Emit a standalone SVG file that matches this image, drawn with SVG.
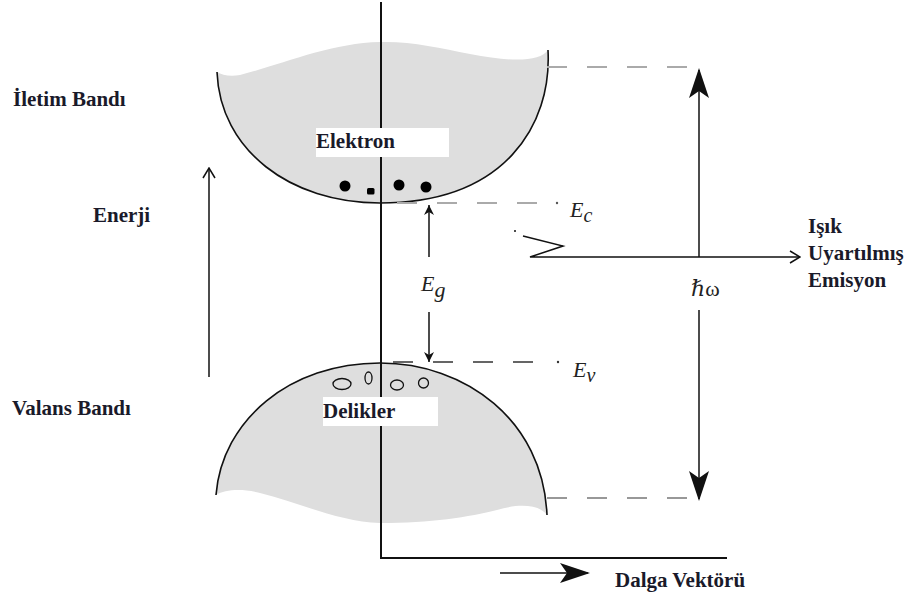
<svg xmlns="http://www.w3.org/2000/svg" width="912" height="599" viewBox="0 0 912 599">
<style>
.lbl{font-family:"Liberation Serif","Times New Roman",serif;font-weight:bold;font-size:21px;fill:#1a1a2a}
.math{font-family:"Liberation Serif","DejaVu Serif",serif;font-style:italic;font-size:22px;fill:#222}
.band{fill:#dedede;stroke:none}
.edge{fill:none;stroke:#111;stroke-width:1.6}
.ax{stroke:#111;stroke-width:2;fill:none}
.ln{stroke:#111;stroke-width:1.5;fill:none}
.dashL{stroke:#aaa;stroke-width:2;stroke-dasharray:20 20;fill:none}
.dashD{stroke:#333;stroke-width:1.5;stroke-dasharray:20 20;fill:none}
</style>
<defs>
<marker id="big" viewBox="0 0 30 20" refX="28" refY="10" markerWidth="30" markerHeight="20" markerUnits="userSpaceOnUse" orient="auto">
<path d="M0,0 L30,10 L0,20 L7,10 Z" fill="#111"/>
</marker>
<marker id="open" viewBox="0 0 12 14" refX="11" refY="7" markerWidth="12" markerHeight="14" markerUnits="userSpaceOnUse" orient="auto">
<path d="M1,1 L11,7 L1,13" fill="none" stroke="#111" stroke-width="1.5"/>
</marker>
<marker id="small" viewBox="0 0 10 10" refX="10" refY="5" markerWidth="10" markerHeight="10" markerUnits="userSpaceOnUse" orient="auto">
<path d="M0,0 L10,5 L0,10 L3,5 Z" fill="#111"/>
</marker>
</defs>

<g id="conduction-band">
<path class="band" d="M217,72 C220,150 290,203 380,203 C505,203 552,125 548,50 C540,62 510,62 470,54 C440,48 410,41 380,42 C330,43 280,65 240,75 C230,77 222,75 217,72 Z"/>
<path class="edge" d="M217,72 C220,150 290,203 380,203 C505,203 552,125 548,50"/>
</g>
<g id="valence-band">
<path class="band" d="M216,495 C222,420 290,363 380,363 C465,363 543,420 547,515 C540,505 520,503 497,510 C470,517 430,523 380,523 C340,522 300,503 260,493 C240,488 225,490 216,495 Z"/>
<path class="edge" d="M216,495 C222,420 290,363 380,363 C465,363 543,420 547,515"/>
</g>

<g id="axes">
<line class="ax" x1="381" y1="2" x2="381" y2="558"/>
<line class="ax" x1="380" y1="558" x2="727" y2="558"/>
</g>

<g id="electrons" fill="#000">
<circle cx="345" cy="186" r="5.5"/>
<rect x="367" y="188" width="7.5" height="6.5" rx="1.5"/>
<circle cx="399" cy="185" r="5.5"/>
<circle cx="426" cy="187" r="5.5"/>
</g>
<g id="holes" fill="none" stroke="#111" stroke-width="1.3">
<ellipse cx="342" cy="384" rx="9" ry="5.5"/>
<ellipse cx="368.5" cy="378" rx="3.5" ry="6"/>
<ellipse cx="397" cy="385" rx="6.5" ry="5"/>
<circle cx="423.5" cy="383" r="5"/>
</g>

<g id="elektron-label">
<rect x="316" y="128" width="133" height="29" fill="#fff"/>
<text class="lbl" x="316" y="148">Elektron</text>
</g>
<g id="delikler-label">
<rect x="323" y="397" width="115" height="29" fill="#fff"/>
<text class="lbl" x="323" y="418">Delikler</text>
</g>

<g id="connectors">
<line class="dashL" x1="547" y1="67" x2="690" y2="67"/>
<line class="dashD" x1="547" y1="498" x2="690" y2="498" style="stroke:#777"/>
<line class="dashL" x1="397" y1="203" x2="545" y2="203"/>
<circle cx="557" cy="203" r="1.2" fill="#555"/>
<line class="dashD" x1="393" y1="362" x2="545" y2="362"/>
<circle cx="558" cy="362" r="1.2" fill="#333"/>
<line class="ln" x1="429" y1="257" x2="429" y2="205" marker-end="url(#small)"/>
<line class="ln" x1="429" y1="312" x2="429" y2="362" marker-end="url(#small)"/>
<line class="ln" x1="699" y1="257" x2="699" y2="70" marker-end="url(#big)"/>
<line class="ln" x1="699" y1="310" x2="699" y2="499" marker-end="url(#big)"/>
<circle cx="515" cy="231" r="1" fill="#111"/>
<polyline class="ln" points="523,236 563,246 530,257 800,257" marker-end="url(#open)"/>
<line class="ln" x1="209" y1="377" x2="209" y2="168" marker-end="url(#open)"/>
<line class="ln" x1="500" y1="573" x2="588" y2="573" marker-end="url(#big)"/>
</g>

<g id="math-labels">
<text class="math" x="570" y="217">E<tspan font-size="20" dy="5">c</tspan></text>
<text class="math" x="573" y="377">E<tspan font-size="20" dy="5">v</tspan></text>
<text class="math" x="421" y="291" font-size="24">E<tspan font-size="22" dy="6">g</tspan></text>
<text class="math" x="691" y="296">ℏ<tspan font-style="normal">ω</tspan></text>
</g>

<g id="side-labels">
<text class="lbl" x="13" y="106">İletim Bandı</text>
<text class="lbl" x="93" y="222">Enerji</text>
<text class="lbl" x="12" y="415">Valans Bandı</text>
<text class="lbl" x="808" y="233">Işık</text>
<text class="lbl" x="808" y="260">Uyartılmış</text>
<text class="lbl" x="808" y="287">Emisyon</text>
<text class="lbl" x="615" y="587">Dalga Vektörü</text>
</g>
</svg>
